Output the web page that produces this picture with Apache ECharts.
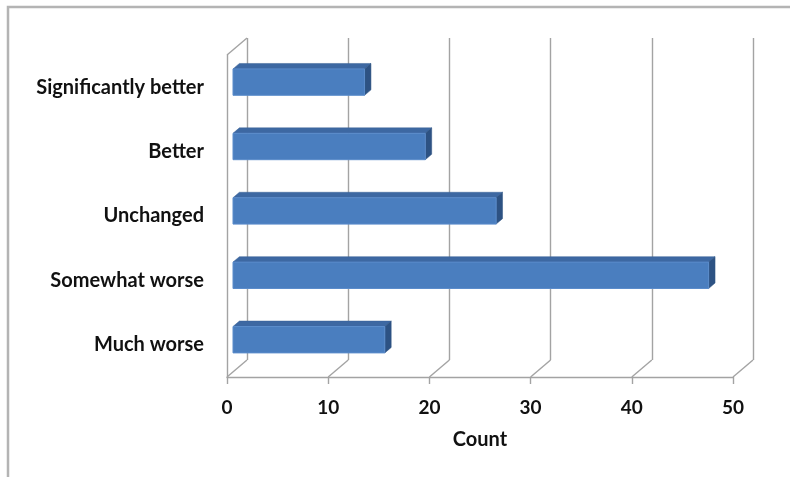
<!DOCTYPE html>
<html>
<head>
<meta charset="utf-8">
<script src="https://cdn.jsdelivr.net/npm/echarts@6/dist/echarts.min.js"></script>
<style>
  html, body { margin: 0; padding: 0; background: #ffffff; }
  #chart { width: 790px; height: 477px; }
</style>
</head>
<body>
<div id="chart"></div>
<script>
// Responses, listed top to bottom as they appear on the axis
const categories = ['Significantly better', 'Better', 'Unchanged', 'Somewhat worse', 'Much worse'];
const counts = [13, 19, 26, 47, 15];
const countTicks = [0, 10, 20, 30, 40, 50];
const axisTitle = 'Count';

// Perspective offset from the front plane to the back wall (px)
const WALL_DX = 20, WALL_DY = -17;
// Depth of the bars inside that offset (fractions)
const BAR_FRONT = 0.3, BAR_BACK = 0.62;
const BAR_THICK = 0.41;

const FRONT = { left: 227, top: 55, width: 506, height: 322 };
const LINE_COLOR = '#a3a3a3';
const FONT = 'Lato, "Open Sans", sans-serif';

const chart = echarts.init(document.getElementById('chart'), null, { renderer: 'canvas' });

function barItem(params, api) {
  const v = api.value(0), cat = api.value(1);
  const p0 = api.coord([0, cat]);
  const p1 = api.coord([v, cat]);
  const band = api.size([0, 1])[1];
  const h = band * BAR_THICK;
  const fx = WALL_DX * BAR_FRONT, fy = WALL_DY * BAR_FRONT;
  const dx = WALL_DX * (BAR_BACK - BAR_FRONT), dy = WALL_DY * (BAR_BACK - BAR_FRONT);
  const x0 = p0[0] + fx, x1 = p1[0] + fx;
  const yT = p0[1] + fy - h / 2, yB = p0[1] + fy + h / 2;
  return {
    type: 'group',
    children: [
      { type: 'polygon', shape: { points: [[x0, yT], [x1, yT], [x1 + dx, yT + dy], [x0 + dx, yT + dy]] },
        style: { fill: '#3d68a2', stroke: '#3a6296', lineWidth: 0.5 } },
      { type: 'polygon', shape: { points: [[x1, yT], [x1 + dx, yT + dy], [x1 + dx, yB + dy], [x1, yB]] },
        style: { fill: '#2d5283', stroke: '#2d5283', lineWidth: 0.5 } },
      { type: 'rect', shape: { x: x0, y: yT, width: x1 - x0, height: yB - yT },
        style: { fill: '#4a7ebf', stroke: '#5b8ccb', lineWidth: 1 } }
    ]
  };
}

function wallItem(params, api) {
  const cs = params.coordSys;
  const x = api.coord([api.value(0), 0])[0];
  const floorY = cs.y + cs.height;
  const style = { stroke: LINE_COLOR, lineWidth: 1.4, fill: null };
  const children = [
    { type: 'line', shape: { x1: x, y1: floorY, x2: x + WALL_DX, y2: floorY + WALL_DY }, style: style }
  ];
  if (api.value(0) === countTicks[0]) {
    children.push({ type: 'line', shape: { x1: x, y1: cs.y, x2: x + WALL_DX, y2: cs.y + WALL_DY }, style: style });
  }
  return { type: 'group', children: children };
}

const option = {
  backgroundColor: '#ffffff',
  animation: false,
  graphic: [
    { type: 'rect', shape: { x: 8, y: 7, width: 820, height: 520 },
      style: { fill: null, stroke: '#b4b4b4', lineWidth: 2.5 }, z: -10 }
  ],
  grid: [
    { left: FRONT.left, top: FRONT.top, width: FRONT.width, height: FRONT.height },
    { left: FRONT.left + WALL_DX, top: FRONT.top + WALL_DY, width: FRONT.width, height: FRONT.height }
  ],
  xAxis: [
    {
      type: 'value', gridIndex: 0, min: countTicks[0], max: countTicks[countTicks.length - 1], interval: 10,
      axisLine: { show: true, lineStyle: { color: LINE_COLOR, width: 1.4 } },
      axisTick: { show: true, length: 7, lineStyle: { color: LINE_COLOR, width: 1.4 } },
      splitLine: { show: false },
      axisLabel: { margin: 21, color: '#111', fontSize: 19, fontFamily: FONT, fontWeight: 'bold' },
      name: axisTitle, nameLocation: 'middle', nameGap: 53,
      nameTextStyle: { color: '#111', fontSize: 20, fontFamily: FONT, fontWeight: 'bold' }
    },
    {
      type: 'value', gridIndex: 1, min: countTicks[0], max: countTicks[countTicks.length - 1], interval: 10,
      axisLine: { show: false }, axisTick: { show: false }, axisLabel: { show: false },
      splitLine: { show: true, lineStyle: { color: LINE_COLOR, width: 1.4 } }
    }
  ],
  yAxis: [
    {
      type: 'category', gridIndex: 0, data: categories, inverse: true,
      axisLine: { show: true, lineStyle: { color: LINE_COLOR, width: 1.4 } },
      axisTick: { show: false },
      axisLabel: { margin: 23, color: '#111', fontSize: 20, fontFamily: FONT, fontWeight: 'bold' }
    },
    {
      type: 'category', gridIndex: 1, data: categories, inverse: true, show: false
    }
  ],
  series: [
    {
      type: 'custom', xAxisIndex: 0, yAxisIndex: 0, z: 1,
      data: countTicks.map(t => [t]),
      encode: { x: 0 },
      renderItem: wallItem, silent: true
    },
    {
      type: 'custom', xAxisIndex: 0, yAxisIndex: 0, z: 5,
      data: counts.map((v, i) => [v, i]),
      encode: { x: 0, y: 1 },
      renderItem: barItem
    }
  ]
};

chart.setOption(option);
</script>
</body>
</html>
